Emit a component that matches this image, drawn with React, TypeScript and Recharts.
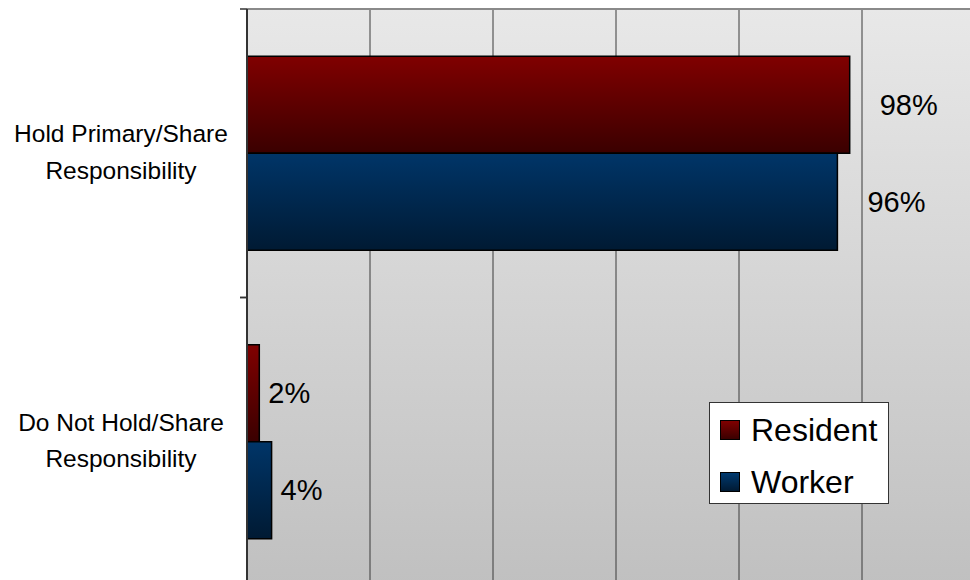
import React from "react";
import { BarChart, Bar, XAxis, YAxis, CartesianGrid, Legend, LabelList } from "recharts";

const categories = ["Hold Primary/Share\nResponsibility", "Do Not Hold/Share\nResponsibility"];
const residentValues = [0.98, 0.02];
const workerValues = [0.96, 0.04];
const seriesNames = ["Resident", "Worker"];
const xTicks = [0, 0.2, 0.4, 0.6, 0.8, 1.0, 1.2];
const xDomain: [number, number] = [0, 1.2];

const data = categories.map((name, i) => ({
  name,
  resident: residentValues[i],
  worker: workerValues[i],
}));

const FONT = "'Liberation Sans', Arial, sans-serif";

const CatTick = (props: any) => {
  const { x, y, payload } = props;
  const half = payload && typeof payload.offset === "number" ? payload.offset : 144;
  const lines = String(payload.value).split("\n");
  return (
    <g>
      <line x1={x - 7} x2={x} y1={y - half} y2={y - half} stroke="#333" strokeWidth={1.5} />
      <line x1={x - 7} x2={x} y1={y + half} y2={y + half} stroke="#333" strokeWidth={1.5} />
      <text textAnchor="middle" fontSize={24.5} fontFamily={FONT} fill="#000">
        {lines.map((l, i) => (
          <tspan key={i} x={x - 126} y={y - 11 + i * 36.5}>
            {l}
          </tspan>
        ))}
      </text>
    </g>
  );
};

const ValueLabel = (props: any) => {
  const { x, y, width, height, value } = props;
  const gap = value >= 0.5 ? 30 : 9;
  return (
    <text
      x={x + width + gap}
      y={y + height / 2}
      dominantBaseline="central"
      fontSize={29}
      fontFamily={FONT}
      fill="#000"
    >
      {`${Math.round(value * 100)}%`}
    </text>
  );
};

const swatchBg = ["linear-gradient(#800000, #3a0000)", "linear-gradient(#003a70, #001a33)"];

const LegendBox = () => (
  <div
    style={{
      width: 180,
      height: 102,
      boxSizing: "border-box",
      border: "1.5px solid #333",
      background: "#fff",
      fontFamily: FONT,
      fontSize: 32,
      color: "#000",
      position: "relative",
    }}
  >
    {seriesNames.map((n, i) => (
      <div
        key={n}
        style={{ position: "absolute", left: 10, top: 10 + i * 52, height: 34, display: "flex", alignItems: "center" }}
      >
        <div
          style={{
            width: 20,
            height: 20,
            boxSizing: "border-box",
            border: "1.5px solid #000",
            background: swatchBg[i],
            marginRight: 11,
          }}
        />
        <span style={{ lineHeight: "34px" }}>{n}</span>
      </div>
    ))}
  </div>
);

const gridX = (args: any) => {
  const xAxis = args && args.xAxis;
  if (xAxis && typeof xAxis.scale === "function") {
    return xTicks.map((t) => xAxis.scale(t));
  }
  const off = args.offset;
  return xTicks.map((t) => off.left + ((t - xDomain[0]) / (xDomain[1] - xDomain[0])) * off.width);
};

const gridTop = (args: any) => [args.offset.top];

export default function App() {
  return (
    <div style={{ position: "fixed", left: 0, top: 0, width: 970, height: 580, overflow: "hidden", background: "#fff" }}>
      <div style={{ position: "absolute", left: 8, top: 8 }}>
        <BarChart
          width={1000}
          height={600}
          data={data}
          layout="vertical"
          margin={{ top: 0, right: 23, bottom: 22, left: 0 }}
          barCategoryGap="16.4%"
          barGap={0}
        >
          <defs>
            <linearGradient id="bgGrad" x1="0" y1="0" x2="0" y2="1">
              <stop offset="0%" stopColor="#e8e8e8" />
              <stop offset="100%" stopColor="#c0c0c0" />
            </linearGradient>
            <linearGradient id="redGrad" x1="0" y1="0" x2="0" y2="1">
              <stop offset="0%" stopColor="#800000" />
              <stop offset="100%" stopColor="#3a0000" />
            </linearGradient>
            <linearGradient id="blueGrad" x1="0" y1="0" x2="0" y2="1">
              <stop offset="0%" stopColor="#003568" />
              <stop offset="100%" stopColor="#001a33" />
            </linearGradient>
          </defs>
          <CartesianGrid
            horizontal={false}
            vertical={true}
            stroke="#3a3a3a"
            strokeWidth={1}
            fill="url(#bgGrad)"
            fillOpacity={1}
            verticalCoordinatesGenerator={gridX}
          />
          <CartesianGrid
            horizontal={true}
            vertical={false}
            stroke="#8a8a8a"
            strokeWidth={2}
            horizontalCoordinatesGenerator={gridTop}
          />
          <XAxis
            type="number"
            orientation="top"
            height={1}
            domain={xDomain}
            ticks={xTicks}
            tick={false}
            tickLine={false}
            axisLine={false}
          />
          <YAxis
            type="category"
            dataKey="name"
            width={239}
            tickLine={false}
            tickSize={0}
            tickMargin={0}
            axisLine={{ stroke: "#333", strokeWidth: 2 }}
            tick={<CatTick />}
            interval={0}
          />
          <Legend
            layout="vertical"
            align="center"
            verticalAlign="middle"
            wrapperStyle={{ left: 701, top: 394, width: 180, height: 102 }}
            content={<LegendBox />}
          />
          <Bar dataKey="resident" name="Resident" fill="url(#redGrad)" stroke="#000" strokeWidth={1.5} isAnimationActive={false}>
            <LabelList dataKey="resident" content={<ValueLabel />} />
          </Bar>
          <Bar dataKey="worker" name="Worker" fill="url(#blueGrad)" stroke="#000" strokeWidth={1.5} isAnimationActive={false}>
            <LabelList dataKey="worker" content={<ValueLabel />} />
          </Bar>
        </BarChart>
      </div>
    </div>
  );
}
